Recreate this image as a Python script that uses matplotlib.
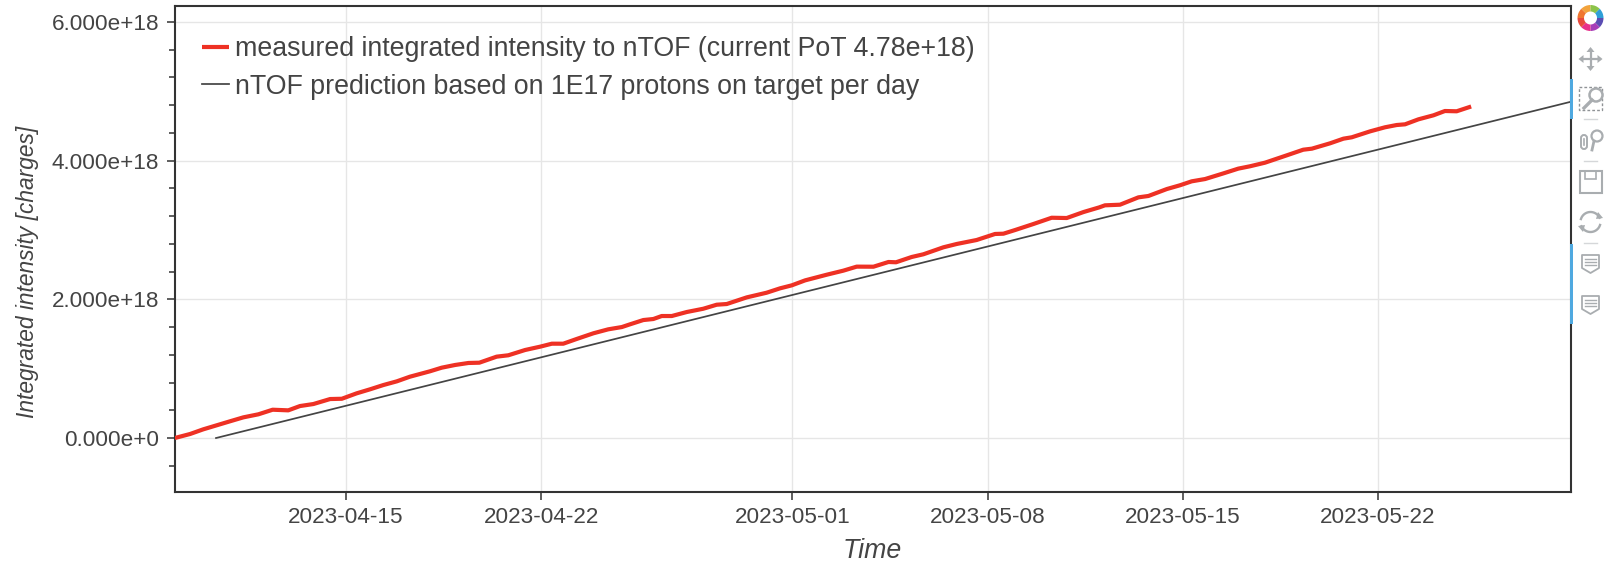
import matplotlib
matplotlib.use("Agg")
import matplotlib.pyplot as plt
import matplotlib.dates as mdates
from matplotlib.patches import Rectangle, Wedge, Circle, Polygon, FancyBboxPatch
from matplotlib.ticker import FuncFormatter, MultipleLocator, FixedLocator
import numpy as np

# ---- data -----
base_date = "2023-04-15"
measured_days = [-6.14,-5.59,-5.12,-4.64,-4.16,-3.68,-3.14,-2.63,-2.07,-1.65,-1.17,-0.57,-0.15,0.38,0.86,1.34,1.82,2.29,2.65,3.01,
    3.43,3.91,4.39,4.78,5.40,5.82,6.42,6.96,7.38,7.79,8.27,8.87,9.40,9.89,10.18,10.66,11.02,11.32,11.68,12.22,
    12.81,13.29,13.65,14.37,15.08,15.56,15.98,16.46,17.24,17.83,18.31,18.91,19.45,19.72,20.28,20.70,21.42,21.90,22.61,23.27,
    23.57,23.99,24.64,25.30,25.84,26.44,27.01,27.21,27.75,28.41,28.77,29.43,29.90,30.32,30.80,31.46,31.99,32.41,32.95,33.73,
    34.32,34.63,35.28,35.76,36.06,36.72,37.25,37.67,37.97,38.45,38.99,39.40,39.82,40.34]
measured_e18 = [0,0.058,0.125,0.183,0.241,0.298,0.342,0.408,0.399,0.461,0.490,0.562,0.566,0.644,0.702,0.764,0.817,0.884,0.923,0.962,
    1.014,1.053,1.082,1.086,1.173,1.193,1.269,1.317,1.360,1.360,1.428,1.510,1.567,1.600,1.639,1.701,1.716,1.759,1.759,1.817,
    1.864,1.922,1.932,2.028,2.095,2.158,2.201,2.273,2.355,2.413,2.471,2.470,2.538,2.534,2.610,2.649,2.750,2.798,2.855,2.942,
    2.946,2.999,3.085,3.176,3.172,3.258,3.326,3.355,3.364,3.470,3.490,3.590,3.644,3.701,3.734,3.816,3.884,3.918,3.970,4.076,
    4.157,4.172,4.249,4.316,4.336,4.422,4.480,4.513,4.523,4.595,4.653,4.715,4.711,4.780]
prediction_days = [-4.66, 43.92]
prediction_e18 = [0.0, 4.849]
x_tick_labels = ["2023-04-15","2023-04-22","2023-05-01","2023-05-08","2023-05-15","2023-05-22"]
y_major = [0.0, 2e18, 4e18, 6e18]
measured_label = "measured integrated intensity to nTOF (current PoT 4.78e+18)"
prediction_label = "nTOF prediction based on 1E17 protons on target per day"

W, H = 1613, 565
plt.rcParams['font.family'] = ['Liberation Sans', 'DejaVu Sans']
TXT = '#444444'
fig = plt.figure(figsize=(W/100, H/100), dpi=100, facecolor='white')
L, R, T, B = 174.5, 1571, 6, 491.7
ax = fig.add_axes([L/W, 1-B/H, (R-L)/W, (B-T)/H])

t0 = mdates.datestr2num(base_date)
mx = t0 + np.array(measured_days)
my = np.array(measured_e18) * 1e18
px = t0 + np.array(prediction_days)
py = np.array(prediction_e18) * 1e18

ax.plot(mx, my, color='#ee3124', lw=3.0, solid_joinstyle='round', solid_capstyle='butt',
        label=measured_label, zorder=3)
ax.plot(px, py, color='#444444', lw=1.25, label=prediction_label, zorder=2)

ax.set_xlim(t0 - 6.149, t0 + 43.92)
ax.set_ylim(-0.774e18, 6.229e18)

ax.xaxis.set_major_locator(FixedLocator([mdates.datestr2num(s) for s in x_tick_labels]))
ax.xaxis.set_major_formatter(mdates.DateFormatter('%Y-%m-%d'))
ax.yaxis.set_major_locator(FixedLocator(y_major))
ax.yaxis.set_minor_locator(MultipleLocator(4e17))

def yfmt(v, pos):
    if v == 0:
        return "0.000e+0"
    return f"{v/1e18:.3f}e+18"
ax.yaxis.set_major_formatter(FuncFormatter(yfmt))

ax.grid(True, which='major', color='#e6e6e6', lw=1.0, zorder=0)
ax.set_axisbelow(True)
for s in ax.spines.values():
    s.set_color('#333333')
    s.set_linewidth(1.5)
ax.tick_params(axis='both', which='major', direction='out', length=6, width=1.1,
               color='#333333', labelcolor=TXT, labelsize=16.2, pad=5)
ax.tick_params(axis='y', which='minor', direction='out', length=4, width=1.1, color='#333333')

ax.set_xlabel("Time", style='italic', fontsize=19.3, color=TXT)
ax.set_ylabel("Integrated intensity [charges]", style='italic', fontsize=16.4, color=TXT)
ax.xaxis.set_label_coords(0.4995, -0.122)
ax.yaxis.set_label_coords(-0.1056, 0.452)
ax.xaxis.label.set_verticalalignment('center')
ax.yaxis.label.set_verticalalignment('center')

leg = ax.legend(loc='upper left', bbox_to_anchor=((201.7-L)/(R-L), 1-(36-T)/(B-T)),
                frameon=False, fontsize=19.3, labelcolor=TXT, handlelength=1.0,
                handletextpad=0.26, labelspacing=0.43, borderpad=0, borderaxespad=0)

# ---- toolbar (decorative) in pixel coordinates -----
tb = fig.add_axes([0, 0, 1, 1], facecolor='none')
tb.set_xlim(0, W); tb.set_ylim(H, 0); tb.axis('off')
GR = '#a9adb0'
# active bars
for y0, y1 in [(79, 119), (244, 324)]:
    tb.add_patch(Rectangle((1570, y0), 2.6, y1-y0, color='#4fa9e0', lw=0, zorder=5))
# logo ring
cols = ['#f2a33c', '#8bc34a', '#2e9fd8', '#5b4db3', '#a63db8', '#e8308a', '#e84a3c', '#f0762f']
for i, c in enumerate(cols):
    tb.add_patch(Wedge((1590.5, 18), 13, -90+i*45-45, -90+i*45, width=6.5, color=c, lw=0))
# move arrows
mx0, my0 = 1590.5, 59
tb.plot([mx0-9, mx0+9], [my0, my0], color=GR, lw=1.6)
tb.plot([mx0, mx0], [my0-9, my0+9], color=GR, lw=1.6)
for dx, dy in [(1, 0), (-1, 0), (0, 1), (0, -1)]:
    tip = (mx0+dx*12, my0+dy*12)
    a = (mx0+dx*7+dy*4, my0+dy*7+dx*4)
    b = (mx0+dx*7-dy*4, my0+dy*7-dx*4)
    tb.add_patch(Polygon([tip, a, b], color=GR, lw=0))
# box zoom
tb.add_patch(Rectangle((1579, 87), 23, 23, fill=False, ec='#8f9396', lw=1.0, ls=(0, (2, 1.5))))
tb.add_patch(Circle((1596, 95), 6.5, fc='white', ec=GR, lw=1.8, zorder=3))
tb.plot([1592, 1584], [100, 108], color=GR, lw=2.4, zorder=3)
# wheel zoom
tb.add_patch(FancyBboxPatch((1581, 135), 6, 14, boxstyle="round,pad=0,rounding_size=3", fill=False, ec=GR, lw=1.4))
tb.plot([1584, 1584], [139, 145], color=GR, lw=1.2)
tb.add_patch(Circle((1597, 136), 5.5, fill=False, ec=GR, lw=1.6))
tb.plot([1594, 1592], [141, 150], color=GR, lw=2)
# save
tb.add_patch(Rectangle((1579.5, 171), 22, 22, fill=False, ec=GR, lw=1.5))
tb.add_patch(Rectangle((1585, 171), 11, 8, fill=False, ec=GR, lw=1.2))
# reset
th = np.linspace(0.3, 2.7, 30)
tb.plot(1590.5+10*np.cos(th+np.pi), 222+10*np.sin(th+np.pi), color=GR, lw=1.7)
tb.plot(1590.5+10*np.cos(th), 222+10*np.sin(th), color=GR, lw=1.7)
tb.add_patch(Polygon([(1598, 212), (1603, 218), (1596, 219)], color=GR, lw=0))
tb.add_patch(Polygon([(1583, 232), (1578, 226), (1585, 225)], color=GR, lw=0))
# comment icons
for cy in (263, 304):
    tb.add_patch(Polygon([(1582, cy-8), (1599, cy-8), (1599, cy+5), (1590.5, cy+10), (1582, cy+5)],
                         fill=False, ec=GR, lw=1.3, joinstyle='round'))
    for dy in (-4, -1, 2):
        tb.plot([1585, 1596], [cy+dy, cy+dy], color=GR, lw=1)
# separators
for y in (119, 161, 243):
    tb.plot([1584, 1597], [y, y], color='#d5d7d9', lw=1)

fig.savefig('out.png', dpi=100, facecolor='white')
